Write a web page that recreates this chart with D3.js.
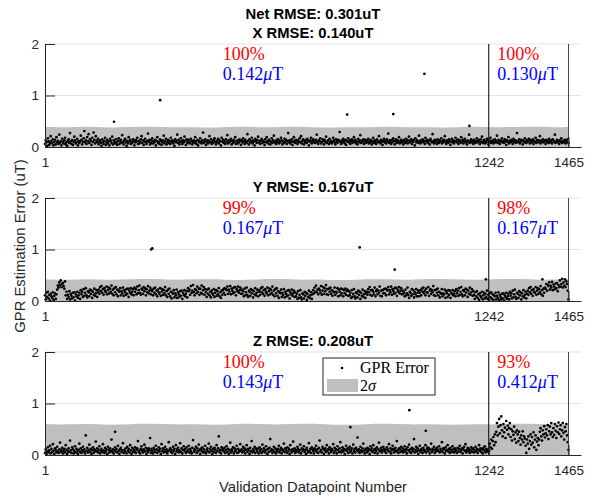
<!DOCTYPE html>
<html>
<head>
<meta charset="utf-8">
<script src="https://cdn.jsdelivr.net/npm/d3@7"></script>
<style>
	body { margin: 0; background: #fff; }
	svg { display: block; font-family: "Liberation Sans", Arial, sans-serif; }
</style>
</head>
<body>
<svg id="chart" width="592" height="500"></svg>
<script>
// GPR error (uT), one sample every 2nd validation datapoint (1, 3, 5 ... 1465)
var xErr = [
	.06,.13,.09,.02,.17,.11,.04,.08,.21,.12,.07,.15,.03,.10,.14,.05,.19,.09,.12,.06,.24,.08,.11,.03,.16,
	.10,.07,.13,.18,.05,.09,.02,.12,.15,.08,.27,.11,.06,.14,.04,.10,.20,.13,.07,.09,.16,.03,.12,.08,.11,
	.22,.14,.05,.10,.17,.31,.09,.13,.06,.19,.11,.25,.08,.15,.12,.04,.18,.10,.28,.14,.07,.21,.12,.09,.16,
	.05,.11,.13,.08,.02,.15,.10,.06,.12,.18,.04,.09,.14,.07,.11,.03,.16,.12,.08,.20,.05,.13,.10,.07,.15,
	.09,.04,.12,.17,.06,.11,.14,.08,.23,.10,.05,.13,.16,.09,.02,.12,.07,.19,.11,.14,.06,.10,.08,.15,.12,
	.03,.09,.14,.11,.18,.06,.12,.07,.10,.15,.21,.08,.13,.04,.11,.16,.09,.06,.12,.26,.10,.14,.05,.08,.13,
	.17,.07,.11,.09,.14,.03,.12,.19,.08,.10,.06,.15,.12,.04,.09,.13,.22,.07,.11,.16,.05,.10,.14,.08,.12,
	.06,.18,.10,.13,.07,.11,.02,.15,.09,.12,.24,.08,.14,.05,.10,.17,.11,.06,.13,.09,.20,.12,.04,.15,.08,
	.11,.14,.07,.09,.16,.12,.05,.10,.13,.08,.19,.11,.06,.14,.03,.12,.09,.17,.10,.07,.13,.28,.08,.11,.15,
	.04,.10,.13,.07,.12,.21,.09,.15,.06,.11,.08,.14,.17,.10,.05,.12,.09,.16,.07,.13,.11,.03,.18,.10,.14,
	.08,.12,.06,.15,.10,.23,.07,.13,.09,.11,.16,.05,.12,.08,.14,.10,.19,.06,.11,.13,.07,.09,.15,.12,.04,
	.13,.09,.17,.11,.06,.14,.10,.08,.25,.12,.05,.15,.09,.11,.18,.07,.13,.10,.03,.16,.12,.08,.14,.20,.09,
	.11,.06,.13,.16,.08,.12,.10,.04,.15,.09,.19,.11,.07,.14,.12,.05,.10,.17,.08,.13,.22,.09,.11,.06,.14,
	.10,.15,.07,.12,.09,.18,.13,.05,.11,.08,.16,.10,.14,.06,.12,.27,.09,.13,.07,.11,.15,.04,.10,.19,.12,
	.08,.14,.11,.06,.13,.09,.17,.10,.21,.07,.12,.15,.05,.11,.09,.14,.08,.16,.12,.03,.10,.13,.18,.07,.11,
	.15,.09,.12,.08,.14,.24,.10,.06,.13,.11,.17,.07,.09,.15,.12,.05,.14,.10,.20,.08,.11,.13,.06,.16,.09,
	.12,.07,.10,.18,.13,.09,.05,.15,.11,.08,.14,.12,.29,.10,.06,.13,.09,.16,.11,.07,.14,.04,.12,.10,.17,
	.09,.13,.06,.11,.15,.08,.12,.19,.10,.14,.07,.11,.05,.16,.09,.13,.23,.08,.12,.10,.15,.06,.11,.14,.08,
	.13,.10,.16,.07,.12,.09,.14,.05,.11,.18,.08,.13,.10,.06,.15,.12,.09,.21,.11,.07,.14,.10,.04,.12,.16,
	.09,.12,.07,.15,.11,.26,.08,.13,.10,.06,.14,.09,.17,.12,.05,.11,.15,.08,.13,.10,.19,.07,.12,.14,.09,
	.11,.05,.14,.10,.08,.16,.12,.07,.13,.20,.09,.11,.15,.06,.12,.10,.14,.03,.17,.09,.13,.11,.08,.22,.12,
	.07,.13,.10,.15,.09,.12,.06,.18,.11,.14,.08,.10,.13,.05,.16,.12,.09,.25,.11,.07,.14,.10,.12,.06,.15,
	.10,.08,.13,.11,.17,.07,.12,.09,.14,.21,.10,.06,.13,.11,.08,.15,.12,.04,.10,.16,.09,.13,.07,.11,.18,
	.12,.09,.15,.06,.11,.13,.08,.19,.10,.14,.07,.12,.16,.09,.11,.05,.13,.10,.24,.08,.12,.15,.09,.11,.06,
	.14,.10,.08,.12,.17,.09,.13,.11,.06,.15,.10,.20,.08,.12,.14,.07,.11,.09,.16,.13,.05,.10,.12,.18,.08,
	.11,.13,.07,.10,.15,.09,.12,.22,.08,.14,.11,.06,.13,.10,.17,.09,.12,.08,.15,.11,.04,.13,.10,.19,.07,
	.12,.09,.14,.11,.06,.16,.10,.13,.08,.12,.27,.09,.11,.15,.07,.10,.14,.12,.05,.13,.09,.17,.11,.08,.14,
	.10,.12,.16,.07,.13,.09,.11,.15,.06,.12,.10,.18,.08,.14,.11,.09,.13,.21,.07,.12,.10,.15,.09,.11,.13,
	.06,.14,.10,.12,.08,.16,.11,.09,.13,.07,.15,.12,.10,.24,.08,.11,.14,.09,.12,.06,.13,.10,.17,.08,.12,
	.11,.09,.14,.07,.12,.10,.15,.08
];
var yErr = [
	.11,.03,.16,.08,.18,.05,.12,.01,.14,.09,.06,.17,.02,.10,.15,.04,.13,.22,.30,.26,.36,.31,.40,.27,.33,
	.35,.29,.24,.38,.11,.18,.04,.12,.08,.19,.03,.14,.10,.05,.16,.07,.17,.01,.13,.09,.18,.06,.11,.16,.04,
	.21,.13,.18,.08,.23,.10,.16,.25,.11,.07,.19,.17,.09,.22,.14,.20,.06,.18,.12,.24,.10,.15,.21,.08,.17,
	.22,.14,.27,.19,.29,.16,.23,.12,.25,.20,.17,.28,.13,.21,.26,.15,.24,.18,.30,.14,.22,.11,.25,.17,.27,
	.13,.22,.09,.20,.18,.25,.11,.19,.15,.26,.10,.21,.17,.12,.23,.14,.24,.08,.20,.16,.25,.13,.18,.23,.11,
	.26,.18,.23,.13,.28,.15,.21,.30,.16,.12,.24,.22,.14,.27,.19,.25,.11,.23,.17,.29,.15,.20,.26,.13,.22,
	.19,.11,.24,.16,.26,.13,.20,.09,.22,.17,.14,.25,.10,.18,.23,.12,.21,.15,.27,.11,.19,.08,.22,.14,.24,
	.09,.18,.05,.16,.14,.21,.07,.15,.11,.22,.06,.17,.13,.08,.19,.10,.20,.04,.16,.12,.21,.09,.14,.19,.07,
	.25,.19,.22,.12,.29,.16,.20,.31,.17,.11,.23,.21,.15,.28,.18,.24,.12,.24,.16,.30,.14,.21,.27,.12,.23,
	.17,.08,.22,.14,.24,.11,.18,.07,.20,.15,.12,.23,.08,.16,.21,.10,.19,.13,.25,.09,.17,.06,.20,.12,.22,
	.16,.25,.12,.23,.21,.28,.14,.22,.18,.29,.13,.24,.20,.15,.26,.17,.27,.11,.23,.19,.28,.16,.21,.26,.14,
	.22,.14,.19,.09,.24,.11,.17,.26,.12,.08,.20,.18,.10,.23,.15,.21,.07,.19,.13,.25,.11,.16,.22,.09,.18,
	.20,.12,.25,.17,.27,.14,.21,.10,.23,.18,.15,.26,.11,.19,.24,.13,.22,.16,.28,.12,.20,.09,.23,.15,.25,
	.10,.19,.06,.17,.15,.22,.08,.16,.12,.23,.07,.18,.14,.09,.20,.11,.21,.05,.17,.13,.22,.10,.15,.20,.08,
	.17,.09,.14,.04,.19,.06,.12,.21,.07,.03,.15,.13,.05,.18,.10,.16,.02,.14,.08,.20,.06,.11,.17,.04,.13,
	.21,.15,.26,.18,.30,.17,.22,.13,.24,.21,.16,.29,.12,.20,.27,.14,.25,.19,.31,.13,.23,.12,.24,.18,.26,
	.14,.21,.10,.19,.17,.26,.12,.18,.16,.25,.09,.22,.18,.11,.24,.15,.23,.09,.21,.15,.24,.12,.19,.22,.10,
	.19,.11,.16,.06,.21,.08,.14,.23,.09,.05,.17,.15,.07,.20,.12,.18,.04,.16,.10,.22,.08,.13,.19,.06,.15,
	.18,.12,.23,.17,.27,.12,.21,.10,.21,.18,.13,.26,.09,.19,.22,.13,.20,.16,.28,.10,.20,.09,.21,.15,.23,
	.15,.24,.11,.22,.20,.27,.13,.21,.17,.28,.12,.23,.19,.14,.25,.16,.26,.10,.22,.18,.27,.15,.20,.25,.13,
	.20,.14,.17,.09,.22,.11,.15,.26,.12,.06,.18,.16,.10,.23,.13,.21,.07,.17,.13,.23,.09,.16,.20,.09,.16,
	.21,.11,.24,.18,.26,.15,.20,.11,.24,.17,.16,.27,.10,.20,.23,.14,.21,.17,.29,.11,.21,.10,.22,.16,.24,
	.11,.18,.07,.16,.14,.23,.09,.15,.13,.22,.06,.19,.15,.08,.21,.12,.20,.06,.16,.14,.21,.11,.14,.19,.09,
	.23,.15,.20,.10,.25,.12,.18,.27,.13,.09,.21,.19,.11,.24,.16,.22,.08,.20,.14,.26,.12,.17,.23,.10,.19,
	.12,.04,.17,.09,.19,.06,.13,.02,.15,.10,.07,.18,.03,.11,.16,.05,.14,.08,.20,.04,.12,.01,.15,.07,.17,
	.04,.13,.02,.11,.09,.16,.03,.10,.06,.17,.02,.12,.08,.03,.14,.05,.15,.01,.11,.07,.16,.04,.09,.14,.03,
	.18,.10,.15,.05,.20,.07,.13,.22,.08,.04,.16,.14,.06,.19,.11,.17,.03,.15,.09,.21,.07,.12,.18,.05,.14,
	.20,.12,.25,.17,.27,.14,.21,.10,.23,.18,.16,.27,.12,.20,.25,.14,.23,.17,.29,.13,.21,.10,.24,.16,.26,
	.24,.33,.20,.31,.29,.36,.22,.30,.26,.37,.21,.32,.28,.23,.34,.25,.35,.19,.31,.27,.40,.28,.33,.43,.26,
	.36,.30,.42,.27,.38,.33,.20,.03
];
var zErr = [
	.04,.11,.02,.07,.15,.05,.09,.18,.03,.12,.06,.21,.08,.02,.13,.10,.05,.16,.07,.04,.11,.24,.06,.09,.14,
	.03,.08,.12,.05,.19,.10,.02,.07,.13,.06,.28,.09,.04,.15,.11,.03,.08,.17,.05,.12,.07,.02,.10,.22,.06,
	.13,.04,.09,.16,.07,.11,.03,.38,.08,.14,.05,.10,.20,.06,.12,.02,.09,.15,.04,.11,.07,.26,.08,.13,.05,
	.10,.17,.03,.08,.12,.06,.21,.09,.04,.14,.07,.11,.02,.16,.10,.05,.13,.08,.30,.06,.11,.03,.09,.15,.07,
	.12,.05,.18,.08,.02,.11,.14,.06,.09,.23,.04,.10,.07,.13,.03,.16,.08,.12,.05,.19,.09,.02,.14,.06,.11,
	.07,.15,.04,.10,.13,.27,.06,.09,.03,.12,.17,.08,.05,.11,.20,.07,.14,.02,.10,.06,.13,.09,.33,.04,.12,
	.08,.03,.14,.10,.06,.18,.11,.04,.09,.15,.07,.12,.02,.21,.08,.13,.05,.10,.16,.06,.11,.03,.08,.25,.09,
	.13,.06,.10,.04,.16,.08,.12,.02,.19,.07,.11,.14,.05,.09,.23,.06,.13,.03,.10,.17,.08,.12,.04,.15,.07,
	.10,.18,.05,.12,.08,.03,.14,.29,.06,.11,.09,.16,.04,.13,.07,.20,.10,.02,.12,.08,.15,.05,.11,.06,.18,
	.03,.09,.13,.07,.22,.05,.11,.16,.08,.02,.12,.06,.14,.10,.04,.19,.08,.13,.36,.06,.10,.03,.15,.09,.11,
	.07,.14,.04,.10,.17,.06,.12,.02,.09,.24,.05,.11,.08,.15,.03,.13,.07,.10,.18,.04,.12,.06,.09,.21,.08,
	.11,.05,.16,.08,.13,.03,.10,.19,.06,.12,.09,.02,.14,.07,.27,.05,.11,.08,.16,.04,.13,.10,.06,.12,.03,
	.15,.08,.11,.04,.20,.07,.13,.09,.05,.17,.10,.02,.12,.06,.14,.31,.08,.11,.04,.09,.16,.06,.13,.03,.10,
	.07,.12,.18,.05,.09,.14,.03,.11,.08,.22,.06,.13,.10,.04,.15,.07,.12,.02,.19,.09,.05,.11,.26,.08,.13,
	.04,.10,.07,.16,.12,.05,.09,.20,.03,.13,.08,.11,.17,.06,.10,.02,.14,.09,.05,.23,.07,.12,.04,.15,.11,
	.08,.03,.13,.09,.18,.06,.11,.04,.14,.28,.07,.10,.05,.16,.12,.02,.09,.13,.06,.19,.08,.11,.03,.15,.10,
	.06,.12,.09,.21,.04,.14,.08,.11,.03,.17,.10,.06,.13,.25,.05,.09,.15,.07,.12,.02,.10,.18,.08,.13,.04,
	.11,.16,.06,.09,.13,.03,.20,.08,.12,.05,.14,.10,.34,.07,.11,.04,.16,.09,.06,.13,.22,.08,.03,.12,.10,
	.05,.14,.08,.11,.02,.17,.09,.13,.06,.19,.10,.04,.12,.08,.15,.03,.11,.24,.07,.10,.14,.05,.09,.16,.12,
	.07,.10,.04,.15,.11,.08,.21,.06,.13,.03,.09,.18,.12,.05,.10,.14,.07,.27,.09,.04,.13,.11,.06,.16,.08,
	.13,.05,.10,.17,.07,.12,.03,.15,.09,.20,.06,.11,.04,.14,.08,.12,.31,.05,.10,.16,.07,.13,.02,.09,.18,
	.06,.12,.09,.04,.14,.10,.07,.19,.05,.11,.15,.08,.13,.03,.10,.22,.06,.12,.09,.16,.04,.11,.07,.14,.10,
	.08,.17,.05,.12,.09,.25,.06,.13,.11,.03,.15,.08,.10,.19,.07,.12,.04,.14,.09,.06,.17,.11,.05,.13,.08,
	.10,.04,.14,.07,.12,.18,.06,.09,.13,.03,.11,.16,.08,.21,.05,.10,.14,.07,.12,.04,.09,.15,.06,.11,.13,
	.05,.09,.16,.07,.12,.04,.10,.19,.08,.13,.06,.11,.03,.14,.09,.17,.05,.12,.08,.10,.06,
	// from datapoint 1243 on
	.08,.22,.15,.30,.12,.27,.35,.19,.40,.25,
	.45,.62,.38,.55,.70,.42,.58,.75,.48,.36,
	.60,.44,.53,.33,.66,.49,.57,.40,.52,.62,
	.35,.50,.28,.46,.39,.55,.31,.44,.24,.48,
	.40,.27,.45,.33,.20,.38,.30,.46,.25,.36,
	.32,.18,.04,.30,.22,.36,.12,.27,.40,.20,
	.35,.24,.44,.15,.30,.38,.10,.26,.33,.19,
	.30,.45,.52,.36,.28,.48,.40,.56,.34,.42,
	.50,.38,.58,.31,.46,.55,.40,.62,.44,.35,
	.52,.39,.60,.47,.33,.56,.44,.63,.41,.50,
	.58,.36,.48,.62,.43,.30,.54,.46,.60,.38,.25,.10
];

// isolated large errors [datapoint, error]
var xOutliers = [[194, .49], [323, .91], [846, .63], [975, .64], [1062, 1.42], [1188, .41]];
var yOutliers = [[298, 1.0], [301, 1.02], [881, 1.04], [979, .61], [1234, .42], [1392, .42]];
var zOutliers = [[197, .45], [855, .54], [1020, .87], [1066, .47]];

// 2 sigma envelope
var bandIdx = [1, 60, 120, 180, 240, 300, 360, 420, 480, 540, 600, 660, 720, 780, 840, 900, 960,
	1020, 1080, 1140, 1200, 1260, 1320, 1380, 1440, 1465];
var xBand = [.39, .38, .40, .37, .39, .40, .38, .39, .37, .40, .38, .39, .40, .37, .39, .38, .40,
	.38, .39, .37, .40, .38, .39, .40, .38, .39];
var yBand = [.42, .41, .43, .41, .42, .43, .41, .42, .43, .40, .42, .43, .41, .42, .40, .43, .42,
	.41, .43, .42, .41, .42, .43, .41, .42, .42];
var zBand = [.60, .59, .61, .58, .60, .61, .59, .60, .58, .61, .60, .59, .61, .60, .58, .60, .61,
	.59, .60, .58, .60, .59, .61, .60, .59, .60];

var titles = [["Net RMSE: 0.301uT", "X RMSE: 0.140uT"], ["Y RMSE: 0.167uT"], ["Z RMSE: 0.208uT"]];
var pctTrain = ["100%", "99%", "100%"];
var pctTest = ["100%", "98%", "93%"];
var rmseTrain = ["0.142", "0.167", "0.143"];
var rmseTest = ["0.130", "0.167", "0.412"];
var splitAt = 1242, lastPoint = 1465;

var svg = d3.select("#chart");
var ink = "#262626";

var x = d3.scaleLinear().domain([1, 1500]).range([45, 581]);
var panelTop = [44, 198, 352];
var panelH = 103;

var panels = [
	{ err: xErr, out: xOutliers, band: xBand },
	{ err: yErr, out: yOutliers, band: yBand },
	{ err: zErr, out: zOutliers, band: zBand }
];

panels.forEach(function(p, k) {
	var top = panelTop[k];
	var y = d3.scaleLinear().domain([0, 2]).range([top + panelH, top]);
	var g = svg.append("g");

	// grid
	g.selectAll(".grid")
		.data([1, 2])
		.enter().append("line")
		.attr("x1", x.range()[0]).attr("x2", x.range()[1])
		.attr("y1", function(d) { return y(d); })
		.attr("y2", function(d) { return y(d); })
		.attr("stroke", "#e3e3e3");

	var band = bandIdx.map(function(v, i) { return [v, p.band[i]]; });
	var area = d3.area()
		.x(function(d) { return x(d[0]); })
		.y0(y(0))
		.y1(function(d) { return y(d[1]); })
		.curve(d3.curveBasis);
	g.append("path").datum(band)
		.attr("d", area)
		.attr("fill", "#bfbfbf");

	var pts = p.err.map(function(v, i) { return [1 + 2 * i, v]; }).concat(p.out);
	g.selectAll(".pt")
		.data(pts)
		.enter().append("circle")
		.attr("cx", function(d) { return x(d[0]); })
		.attr("cy", function(d) { return y(d[1]); })
		.attr("r", 1.35)
		.attr("fill", "#000");

	// split lines
	g.append("line")
		.attr("x1", x(splitAt)).attr("x2", x(splitAt))
		.attr("y1", y(0)).attr("y2", y(2))
		.attr("stroke", "#000");
	g.append("line")
		.attr("x1", x(lastPoint)).attr("x2", x(lastPoint))
		.attr("y1", y(0)).attr("y2", y(2))
		.attr("stroke", "#444");

	var yAxis = g.append("g")
		.attr("transform", "translate(" + x.range()[0] + ",0)")
		.call(d3.axisLeft(y).tickValues([0, 1, 2]).tickFormat(d3.format("d"))
			.tickSizeInner(-10).tickSizeOuter(0).tickPadding(6));
	var xAxis = g.append("g")
		.attr("transform", "translate(0," + y(0) + ")")
		.call(d3.axisBottom(x).tickValues([1, splitAt, lastPoint]).tickFormat(d3.format("d"))
			.tickSizeInner(-10).tickSizeOuter(0).tickPadding(10));
	[yAxis, xAxis].forEach(function(a) {
		a.selectAll("path, line").attr("stroke", ink);
		a.selectAll("text").attr("fill", ink)
			.style("font-family", '"Liberation Sans", Arial, sans-serif')
			.style("font-size", "13.5px");
	});

	// title
	var t = titles[k];
	t.forEach(function(line, j) {
		svg.append("text")
			.attr("x", 313)
			.attr("y", top - 6.5 - (t.length - 1 - j) * 18.5)
			.attr("text-anchor", "middle")
			.style("font-weight", "bold")
			.style("font-size", "14.8px")
			.attr("fill", "#000")
			.text(line);
	});

	// annotations
	[[498, pctTrain[k], rmseTrain[k]], [1266, pctTest[k], rmseTest[k]]].forEach(function(a) {
		var txt = g.append("g").style("font-family", '"Liberation Serif", "Times New Roman", serif')
			.style("font-size", "18px");
		txt.append("text")
			.attr("x", x(a[0])).attr("y", y(1.82)).attr("dy", "0.35em")
			.attr("fill", "#ff0000")
			.text(a[1]);
		var b = txt.append("text")
			.attr("x", x(a[0])).attr("y", y(1.43)).attr("dy", "0.35em")
			.attr("fill", "#0000ff");
		b.append("tspan").text(a[2]);
		b.append("tspan").style("font-style", "italic").text("\u03bc");
		b.append("tspan").text("T");
	});
});

// legend (bottom panel)
var leg = svg.append("g").attr("transform", "translate(323,358)")
	.style("font-family", '"Liberation Serif", "Times New Roman", serif')
	.style("font-size", "16px");
leg.append("rect").attr("width", 112).attr("height", 37)
	.attr("fill", "#fff").attr("stroke", ink);
leg.append("circle").attr("cx", 19).attr("cy", 10).attr("r", 1.35).attr("fill", "#000");
leg.append("text").attr("x", 37).attr("y", 15).attr("fill", "#000").text("GPR Error");
leg.append("rect").attr("x", 4).attr("y", 21).attr("width", 31).attr("height", 13).attr("fill", "#bfbfbf");
var sig = leg.append("text").attr("x", 37).attr("y", 33).attr("fill", "#000");
sig.append("tspan").text("2");
sig.append("tspan").style("font-style", "italic").text("\u03c3");

// axis labels
svg.append("text")
	.attr("transform", "translate(24.5,246) rotate(-90)")
	.attr("text-anchor", "middle")
	.attr("fill", ink)
	.style("font-size", "14.8px")
	.text("GPR Estimation Error (uT)");
svg.append("text")
	.attr("x", 313).attr("y", 492)
	.attr("text-anchor", "middle")
	.attr("fill", ink)
	.style("font-size", "14.8px")
	.text("Validation Datapoint Number");
</script>
</body>
</html>
